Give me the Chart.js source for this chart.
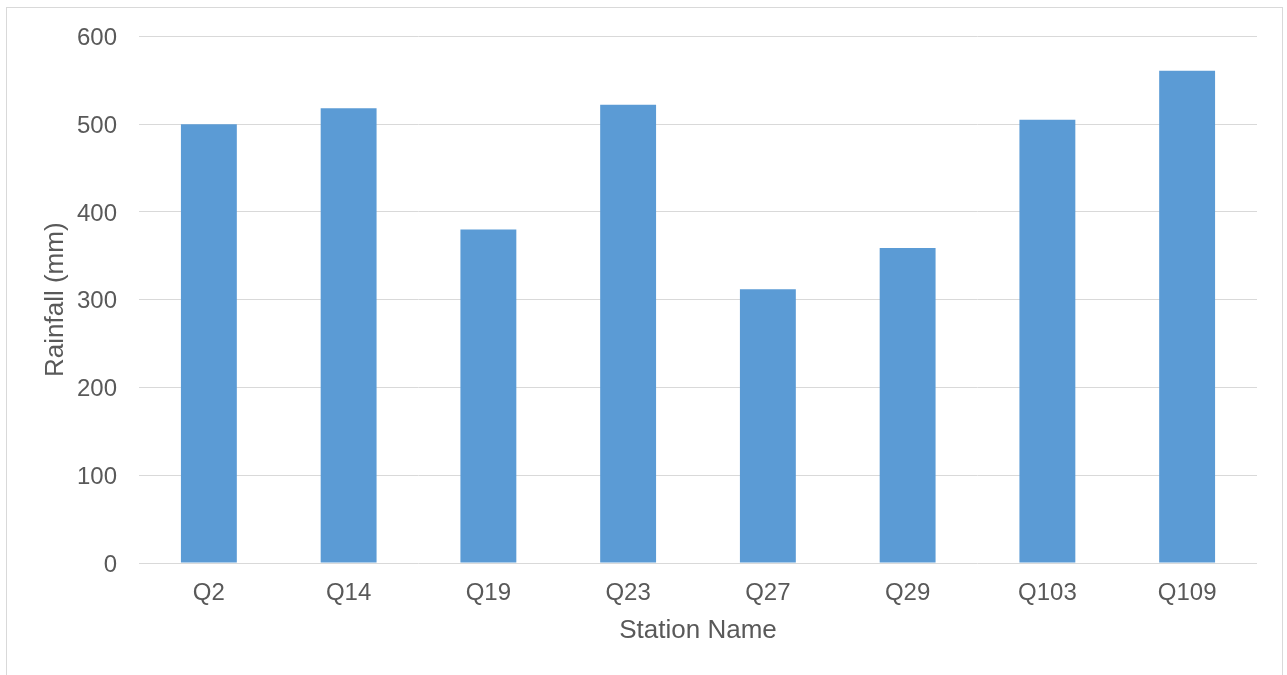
<!DOCTYPE html>
<html>
<head>
<meta charset="utf-8">
<script src="https://cdn.jsdelivr.net/npm/chart.js@4/dist/chart.umd.min.js"></script>
<style>
  html, body { margin: 0; padding: 0; background: #fff; }
  #wrap { position: absolute; left: 0; top: 0; width: 1287px; height: 675px; }
  #frame { position: absolute; left: 6px; top: 7px; width: 1277px; height: 690px;
           border: 1px solid #d9d9d9; box-sizing: border-box; pointer-events: none; }
</style>
</head>
<body>
<div id="wrap"><canvas id="rainfall-chart" width="1287" height="675"></canvas></div>
<div id="frame"></div>
<script>
// rainfall per station
STATIONS = ["Q2", "Q14", "Q19", "Q23", "Q27", "Q29", "Q103", "Q109"]
RAINFALL = [500, 518, 380, 522, 312, 359, 505, 561]
Y_TICKS = [0, 100, 200, 300, 400, 500, 600]

TEXT_COLOR = "#595959"
GRID_COLOR = "#d9d9d9"
BAR_COLOR = "#5b9bd5"
FONT = "'Liberation Sans', Arial, sans-serif"

var ctx = document.getElementById('rainfall-chart')

new Chart(ctx, {
    type: "bar",
    data: {
        labels: STATIONS,
        datasets: [{
            label: "Rainfall (mm)",
            data: RAINFALL,
            backgroundColor: BAR_COLOR,
            borderWidth: 0,
            barPercentage: 0.4,
            categoryPercentage: 1.0
        }]
    },
    options: {
        responsive: false,
        animation: false,
        events: [],
        layout: { padding: { left: 0, top: 36, right: 30, bottom: 0 } },
        plugins: {
            legend: { display: false },
            tooltip: { enabled: false }
        },
        scales: {
            x: {
                grid: { display: false, drawTicks: false },
                border: { display: false },
                ticks: {
                    color: TEXT_COLOR,
                    font: { family: FONT, size: 24 },
                    padding: 16,
                    maxRotation: 0
                },
                title: {
                    display: true,
                    text: "Station Name",
                    color: TEXT_COLOR,
                    font: { family: FONT, size: 26 },
                    padding: { top: 0, bottom: 29 }
                },
                afterFit: function(scale) { scale.height = 112 }
            },
            y: {
                min: 0,
                max: 600,
                afterBuildTicks: function(scale) {
                    scale.ticks = Y_TICKS.map(function(v) { return { value: v } })
                },
                grid: { color: GRID_COLOR, lineWidth: 1, drawTicks: false },
                border: { display: false },
                ticks: {
                    color: TEXT_COLOR,
                    font: { family: FONT, size: 24 },
                    padding: 22,
                    labelOffset: 2
                },
                title: {
                    display: true,
                    text: "Rainfall (mm)",
                    color: TEXT_COLOR,
                    font: { family: FONT, size: 26 },
                    padding: { top: 40, bottom: 0 }
                },
                afterFit: function(scale) { scale.width = 139 }
            }
        }
    }
})
</script>
</body>
</html>
